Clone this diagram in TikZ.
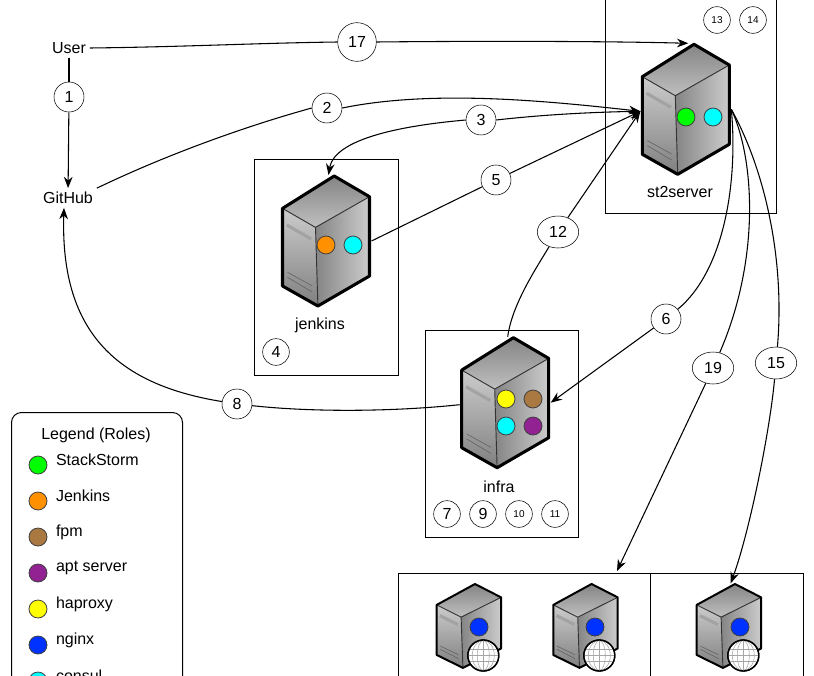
\documentclass[tikz,border=0pt]{standalone}
\usepackage{fontspec}
\setmainfont{Liberation Sans}
\usetikzlibrary{shapes.geometric, arrows.meta}

\definecolor{rolegreen}{RGB}{0,255,0}
\definecolor{roleorange}{RGB}{255,145,0}
\definecolor{rolebrown}{RGB}{170,121,66}
\definecolor{rolepurple}{RGB}{146,33,146}
\definecolor{roleyellow}{RGB}{255,255,0}
\definecolor{roleblue}{RGB}{0,50,255}
\definecolor{rolecyan}{RGB}{0,255,255}

\tikzset{
  server/.pic={
    % faces
    \shade[top color=black!48, bottom color=black!25] (0,32.4) -- (51.7,0) -- (87,20.7) -- (33,51.4) -- cycle;
    \shade[left color=black!48, right color=black!20] (33,51.4) -- (87,20.7) -- (87,100) -- (35.4,130) -- cycle;
    \shade[top color=black!20, bottom color=black!50] (0,32.4) -- (33,51.4) -- (35.4,130) -- (0,110) -- cycle;
    % slot and vents
    \draw[black!36, line width=2.4pt] (4.3,49) -- (28.7,63);
    \draw[black!60, line width=0.5pt] (5,96.3) -- (29.3,109.7) (5,101.3) -- (29.3,115.7);
    % edges
    \draw[black!80, line width=0.7pt] (0,32.4) -- (33,51.4) -- (87,20.7) (33,51.4) -- (35.4,130);
    \draw[line join=round] (0,32.4) -- (51.7,0) -- (87,20.7) -- (87,100) -- (35.4,130) -- (0,110) -- cycle;
    \coordinate (-top) at (46,-1);
    \coordinate (-left) at (-2,67);
    \coordinate (-right) at (89,65);
  },
  globe/.pic={
    \draw[fill=white, line width=1pt] (0,0) circle (15.5);
    \draw[black!35, line width=0.4pt] (0,-15) -- (0,15) (-14,-6) -- (14,-6) (-15,0) -- (15,0) (-14,6) -- (14,6);
    \draw[black!35, line width=0.4pt] (0,0) ellipse (6 and 15) (0,0) ellipse (11 and 15);
    \draw[line width=1pt] (0,0) circle (15.5);
  },
  num/.style={circle, draw, fill=white, inner sep=0pt, minimum size=22.5pt, font=\fontsize{12}{14}\selectfont},
  numwide/.style={ellipse, draw, fill=white, inner sep=0pt, minimum width=31pt, minimum height=24pt, font=\fontsize{12}{14}\selectfont},
  numsmall/.style={circle, draw, fill=white, inner sep=0pt, minimum size=20pt, font=\fontsize{12}{14}\selectfont},
  numtiny/.style={numsmall, font=\fontsize{7.5}{9}\selectfont},
  lbl/.style={font=\fontsize{12}{14}\selectfont, inner sep=0pt, outer sep=3pt},
  role/.style={circle, draw=black!75, line width=0.6pt, inner sep=0pt, minimum size=13.5pt},
  conn/.style={line width=0.8pt},
  box/.style={line width=0.75pt},
}

\begin{document}
\begin{tikzpicture}[x=0.75pt, y=-0.75pt, >={Stealth[length=8.5pt,width=6.5pt]}]
    \useasboundingbox (0,0) rectangle (814,675);
    \clip (0,0) rectangle (814,675);

    % ---------- boxes ----------
    \draw[box] (605.5,-5) rectangle (776.5,213.5);
    \draw[box] (254.5,159.5) rectangle (398.5,375.5);
    \draw[box] (425.5,330.5) rectangle (578.5,537.5);
    \draw[box] (398.5,573.5) rectangle (803.5,690);
    \draw[box] (650.5,573.5) -- (650.5,690);
    \coordinate (poolin) at (617,571);

    % ---------- servers ----------
    \pic[line width=2.3pt] (st2) at (642.3,44.3) {server};
    \pic[line width=2.3pt] (jenkins) at (282.5,176) {server};
    \pic[line width=2.3pt] (infra) at (461.7,337.7) {server};
    \pic[line width=1.5pt, xscale=0.74, yscale=0.645] (weba) at (436.7,584) {server};
    \pic[line width=1.5pt, xscale=0.74, yscale=0.645] (webb) at (553.3,584) {server};
    \pic[line width=1.5pt, xscale=0.74, yscale=0.645] (webc) at (696.7,584) {server};

    % role dots
    \node[role, fill=rolegreen] (st2a) at (686,117) {};
    \node[role, fill=rolecyan] (st2b) at (713,117) {};
    \node[role, fill=roleorange] (jenkinsa) at (326,245) {};
    \node[role, fill=rolecyan] (jenkinsb) at (353,245) {};
    \node[role, fill=roleyellow] (infraa) at (506,399) {};
    \node[role, fill=rolebrown] (infrab) at (533,399) {};
    \node[role, fill=rolecyan] (infrac) at (506,426) {};
    \node[role, fill=rolepurple] (infrad) at (533,426) {};
    \node[role, fill=roleblue] (webadot) at (479,627) {};
    \node[role, fill=roleblue] (webbdot) at (595,627) {};
    \node[role, fill=roleblue] (webcdot) at (740,627) {};

    % globes
    \pic at (483.3,655.5) {globe};
    \pic at (599.3,655.5) {globe};
    \pic at (743.3,655.5) {globe};

    % ---------- texts ----------
    \node[lbl] (user) at (69,48) {User};
    \node[lbl] (github) at (68,198) {GitHub};
    \node[lbl] (st2name) at (680,192) {st2server};
    \node[lbl] (jenkinsname) at (320,325) {jenkins};
    \node[lbl] (infraname) at (499,487) {infra};

    % ---------- numbers ----------
    \node[num, minimum size=29pt] (n17) at (357,42) {17};
    \node[num] (n1) at (69,97) {1};
    \node[num] (n2) at (327,108) {2};
    \node[num] (n3) at (481,120) {3};
    \node[num] (n5) at (496,180) {5};
    \node[num] (n6) at (666,319) {6};
    \node[num] (n8) at (237,404) {8};
    \node[numwide] (n12) at (558,232) {12};
    \node[numwide] (n19) at (713,368) {19};
    \node[numwide] (n15) at (776,363) {15};
    \node[numsmall] (n4) at (276,352) {4};
    \node[numsmall] (n7) at (447,514) {7};
    \node[numsmall] (n9) at (483,514) {9};
    \node[numtiny] (n10) at (519,514) {10};
    \node[numtiny] (n11) at (555,514) {11};
    \node[numtiny] (n13) at (717,20) {13};
    \node[numtiny] (n14) at (753,20) {14};

    % ---------- connectors ----------
    \draw[conn] (user) -- (n1);
    \draw[conn, ->] (n1) -- (github);
    \draw[conn] (user.east) .. controls (180,47) and (260,43) .. (n17.west);
    \draw[conn, ->] (n17.east) .. controls (470,41) and (600,41) .. (st2-top);
    \draw[conn] (github.north east) .. controls (170,153) and (250,125) .. (n2.west);
    \draw[conn, ->] (n2.east) .. controls (430,90) and (540,100) .. (st2-left);
    \draw[conn] (st2-left) .. controls (590,112) and (540,115) .. (n3.east);
    \draw[conn, ->] (n3.west) .. controls (420,124) and (335,135) .. (jenkins-top);
    \draw[conn] (jenkins-right) -- (n5);
    \draw[conn, ->] (n5) -- (st2-left);
    \draw[conn] (infra-top) .. controls (512,305) and (535,270) .. (n12);
    \draw[conn, ->] (n12) -- (st2-left);
    \draw[conn] (st2-right) .. controls (738,180) and (725,270) .. (n6);
    \draw[conn, ->] (n6) -- (infra-right);
    \draw[conn] (st2-right) .. controls (755,160) and (760,260) .. (n19);
    \draw[conn, ->] (n19) -- (poolin);
    \draw[conn] (st2-right) .. controls (765,170) and (785,260) .. (n15);
    \draw[conn, ->] (n15) .. controls (770,430) and (750,530) .. (webc-top);
    \draw[conn] (infra-left) .. controls (390,412) and (310,412) .. (n8);
    \draw[conn, ->] (n8) .. controls (120,385) and (60,335) .. ([xshift=-3pt]github.south);

    % ---------- legend ----------
    \draw[box, rounded corners=7.5pt] (11.5,412.5) rectangle (182.5,700);
    \node[lbl] (legendname) at (96,435) {Legend (Roles)};
    \node[role, fill=rolegreen] (lega) at (38,465) {};
    \node[lbl, anchor=west, outer sep=0pt] (legatext) at (56,460) {StackStorm};
    \node[role, fill=roleorange] (legb) at (38,501) {};
    \node[lbl, anchor=west, outer sep=0pt] (legbtext) at (56,496) {Jenkins};
    \node[role, fill=rolebrown] (legc) at (38,537) {};
    \node[lbl, anchor=west, outer sep=0pt] (legctext) at (56,532) {fpm};
    \node[role, fill=rolepurple] (legd) at (38,573) {};
    \node[lbl, anchor=west, outer sep=0pt] (legdtext) at (56,568) {apt server};
    \node[role, fill=roleyellow] (lege) at (38,609) {};
    \node[lbl, anchor=west, outer sep=0pt] (legetext) at (56,604) {haproxy};
    \node[role, fill=roleblue] (legf) at (38,645) {};
    \node[lbl, anchor=west, outer sep=0pt] (legftext) at (56,640) {nginx};
    \node[role, fill=rolecyan] (legg) at (38,681) {};
    \node[lbl, anchor=west, outer sep=0pt] (leggtext) at (56,676) {consul};
\end{tikzpicture}
\end{document}
